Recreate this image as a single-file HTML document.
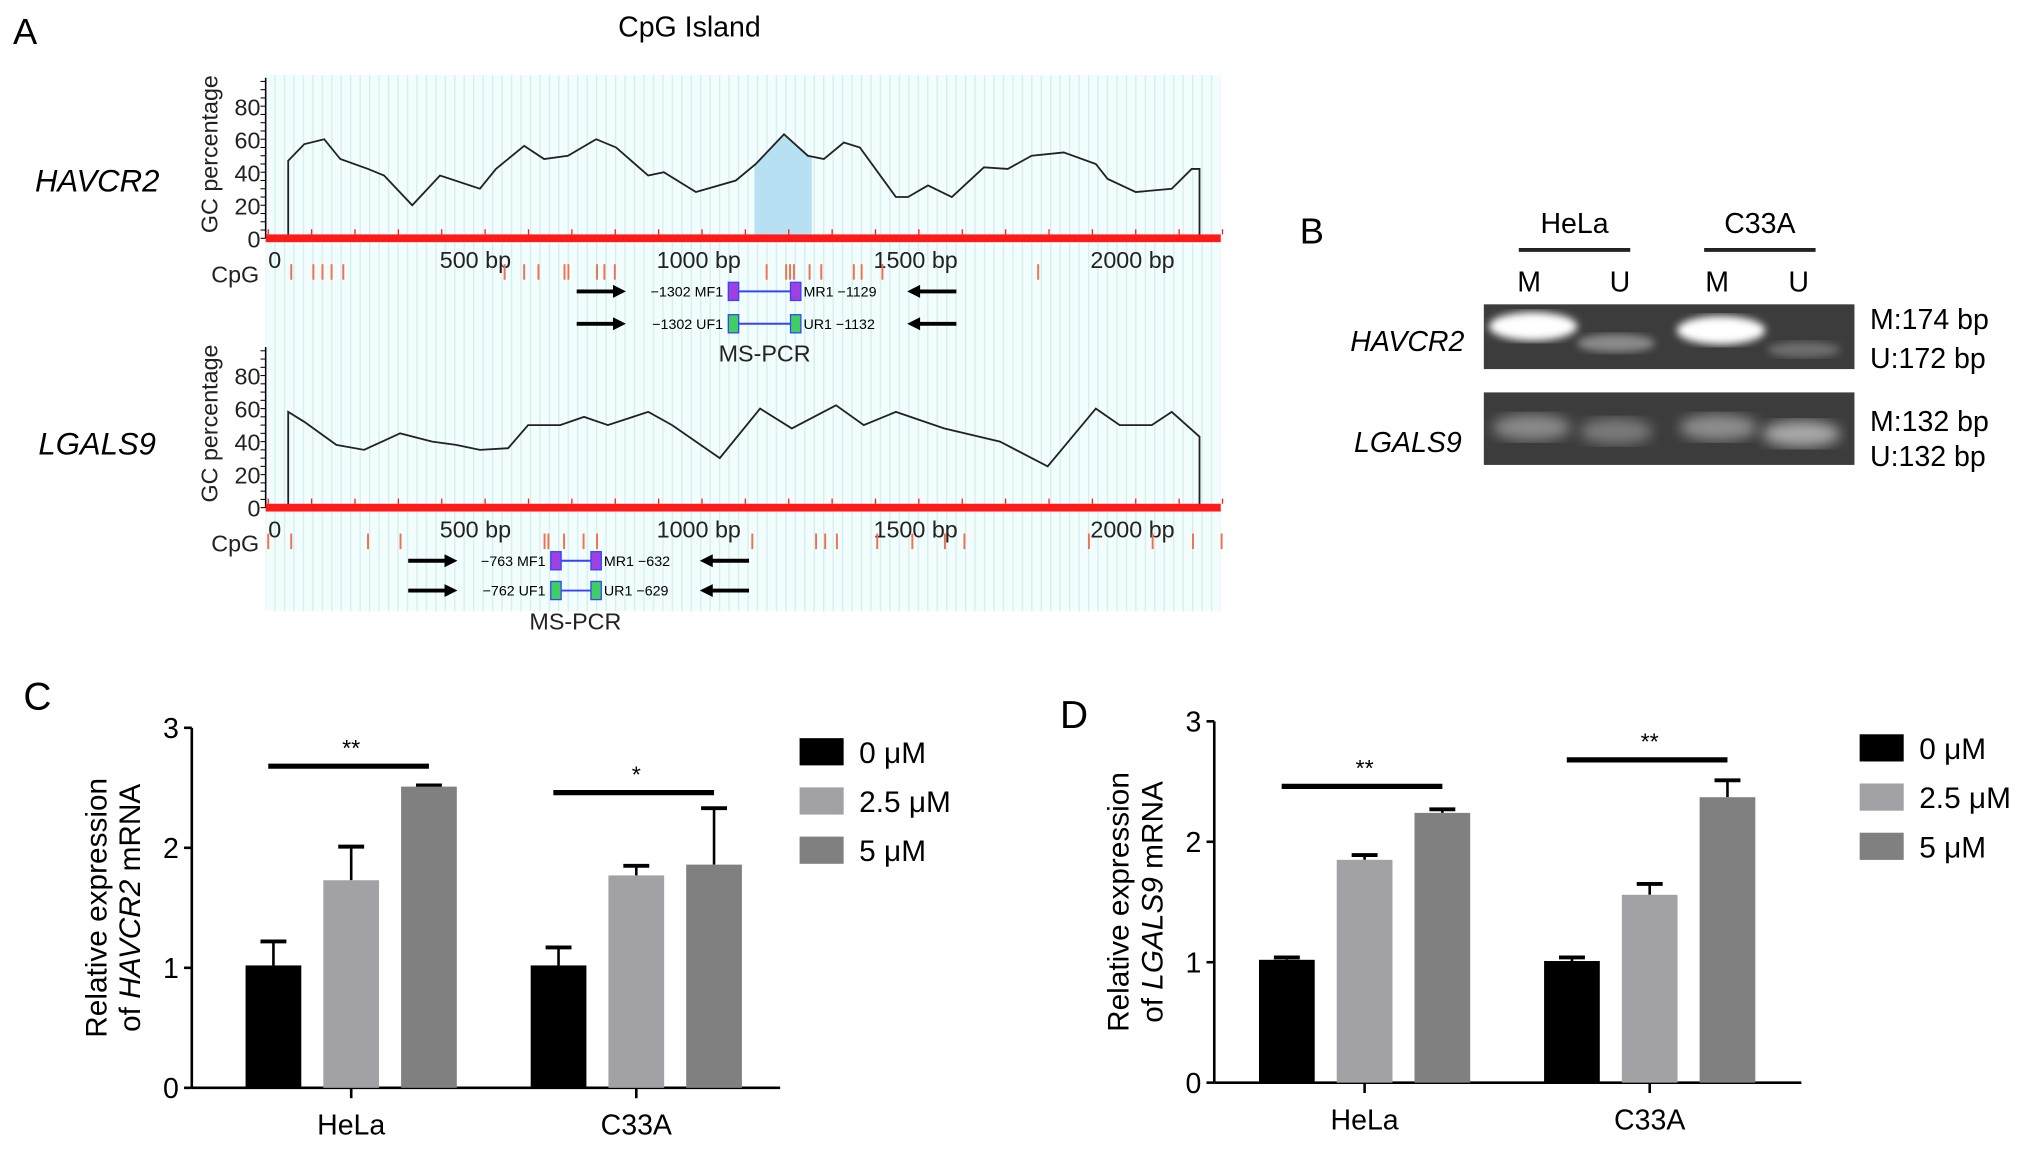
<!DOCTYPE html>
<html><head><meta charset="utf-8">
<style>
html,body{margin:0;padding:0;background:#fff;}
svg{display:block;font-family:"Liberation Sans",sans-serif;}
</style></head>
<body>
<svg id="fig" width="2032" height="1150" viewBox="0 0 1568 888" preserveAspectRatio="none">
<defs>
<pattern id="stripes" x="0" y="0" width="7.3" height="10" patternUnits="userSpaceOnUse">
<rect width="7.3" height="10" fill="#f2fdfd"/><rect width="1" height="10" fill="#d6eeee"/>
</pattern>
<filter id="blur3"><feGaussianBlur stdDeviation="3"/></filter>
<filter id="blur5"><feGaussianBlur stdDeviation="5"/></filter>
</defs>

<!-- PANEL A -->
<text x="10" y="34" font-size="28">A</text>
<text x="532" y="28" font-size="22" text-anchor="middle">CpG Island</text>
<rect x="205" y="58" width="737" height="414" fill="url(#stripes)"/>
<g id="panelA"></g>

<!-- PANEL B -->
<text x="1003" y="188" font-size="28">B</text>
<text x="1215" y="180" font-size="22" text-anchor="middle">HeLa</text>
<text x="1358" y="180" font-size="22" text-anchor="middle">C33A</text>
<line x1="1172" y1="193" x2="1258" y2="193" stroke="#222" stroke-width="3"/>
<line x1="1315" y1="193" x2="1401" y2="193" stroke="#222" stroke-width="3"/>
<text x="1180" y="225" font-size="22" text-anchor="middle">M</text>
<text x="1250" y="225" font-size="22" text-anchor="middle">U</text>
<text x="1325" y="225" font-size="22" text-anchor="middle">M</text>
<text x="1388" y="225" font-size="22" text-anchor="middle">U</text>
<text x="1130" y="271" font-size="22" font-style="italic" text-anchor="end">HAVCR2</text>
<text x="1128" y="349" font-size="22" font-style="italic" text-anchor="end">LGALS9</text>
<g>
<rect x="1145" y="235" width="286" height="50" fill="#3c3c3c"/>
<ellipse cx="1183" cy="252" rx="34" ry="11" fill="#fff" filter="url(#blur3)"/>
<ellipse cx="1247" cy="265" rx="30" ry="7" fill="#8a8a8a" filter="url(#blur3)"/>
<ellipse cx="1328" cy="255" rx="34" ry="11" fill="#fff" filter="url(#blur3)"/>
<ellipse cx="1392" cy="270" rx="28" ry="6" fill="#6e6e6e" filter="url(#blur3)"/>
</g>
<g>
<rect x="1145" y="303" width="286" height="56" fill="#3c3c3c"/>
<ellipse cx="1182" cy="330" rx="30" ry="10" fill="#8a8a8a" filter="url(#blur5)"/>
<ellipse cx="1247" cy="333" rx="28" ry="10" fill="#7a7a7a" filter="url(#blur5)"/>
<ellipse cx="1326" cy="330" rx="30" ry="10" fill="#8e8e8e" filter="url(#blur5)"/>
<ellipse cx="1390" cy="335" rx="30" ry="10" fill="#a8a8a8" filter="url(#blur5)"/>
</g>
<text x="1443" y="254" font-size="22">M:174 bp</text>
<text x="1443" y="284" font-size="22">U:172 bp</text>
<text x="1443" y="333" font-size="22">M:132 bp</text>
<text x="1443" y="360" font-size="22">U:132 bp</text>

<!-- PANEL C / D -->
<text x="18" y="548" font-size="30">C</text>
<text x="818" y="562" font-size="30">D</text>
<g id="panelC"></g>
<g id="panelD"></g>
</svg>

<script>
// ---------- Panel A data ----------
const havcrBp = [46,83,129,166,230,267,332,396,488,525,590,636,691,756,802,876,912,986,1078,1124,1189,1244,1281,1327,1364,1447,1475,1521,1576,1650,1705,1760,1834,1908,1935,2000,2083,2129,2147];
const havcrGC = [47,57,60,48,42,38,20,38,30,42,56,48,50,60,55,38,40,28,35,45,63,50,48,58,55,25,25,32,25,43,42,50,52,45,36,28,30,42,42];
const lgalsBp = [46,83,157,221,304,378,433,488,553,599,673,728,783,876,931,1041,1134,1207,1309,1373,1447,1558,1687,1797,1908,1963,2037,2083,2147];
const lgalsGC = [58,52,38,35,45,40,38,35,36,50,50,55,50,58,50,30,60,48,62,50,58,48,40,25,60,50,50,58,43];
const islandRange = [1121,1253];
const gcTicks = [0,20,40,60,80];
const bpTicks = [0,500,1000,1500,2000];
const bpTickLabels = ["0","500 bp","1000 bp","1500 bp","2000 bp"];
const cpgSites1 = [53,104,125,146,173,545,590,623,683,692,758,775,799,1149,1194,1203,1212,1248,1275,1350,1368,1416,1775];
const cpgSites2 = [0,53,230,305,637,646,682,727,758,1116,1263,1284,1311,1404,1485,1560,1605,1892,2039,2132,2198];

const NS='http://www.w3.org/2000/svg';
function mk(parent, tag, attrs, text){
  const e=document.createElementNS(NS,tag);
  for(const k in attrs) e.setAttribute(k, attrs[k]);
  if(text!==undefined) e.textContent=text;
  parent.appendChild(e); return e;
}
const gA=document.getElementById('panelA');
const xBp = bp => 207 + bp*0.3347;

function gcChart(top0, bps, vals, gene, labelY, sites, prim){
  const yV = v => top0 - v*1.275;
  const ax=mk(gA,'line',{x1:205,y1:top0-124,x2:205,y2:top0,stroke:'#000','stroke-width':1.2});
  
  
  for(let v=0; v<=95; v+=5){ mk(gA,'line',{x1:201,x2:205,y1:yV(v),y2:yV(v),stroke:'#000','stroke-width':0.8}); }
  gcTicks.forEach(t=>{
    const tl=mk(gA,'text',{x:201,y:yV(t)+7,'font-size':18,'text-anchor':'end',fill:'#222'},String(t));
    
    
  });
  const yt=mk(gA,'text',{x:0,y:0,'font-size':18,'text-anchor':'middle',transform:`translate(168 ${top0-65}) rotate(-90)`,fill:'#222'},'GC percentage');
  
  
  const gl=mk(gA,'text',{x:75,y:labelY,'font-size':24,'font-style':'italic','text-anchor':'middle'},gene);
  
  
  if(gene==='HAVCR2'){
    let pts=[[islandRange[0],top0]];
    const interp = b=>{for(let i=1;i<bps.length;i++){if(bps[i]>=b){const f=(b-bps[i-1])/(bps[i]-bps[i-1]);return vals[i-1]+f*(vals[i]-vals[i-1]);}}return vals[vals.length-1];};
    pts.push([islandRange[0],interp(islandRange[0])]);
    bps.forEach((b,i)=>{ if(b>islandRange[0]&&b<islandRange[1]) pts.push([b,vals[i]]); });
    pts.push([islandRange[1],interp(islandRange[1])]); pts.push([islandRange[1],top0]);
    const sh=mk(gA,'polygon',{points:pts.map(p=>xBp(p[0])+','+(p[1]===top0?top0:yV(p[1]))).join(' '),fill:'#b7e1f3'});
    
    
  }
  let pts=[[xBp(bps[0]),top0]];
  bps.forEach((b,i)=>pts.push([xBp(b),yV(vals[i])]));
  pts.push([xBp(bps[bps.length-1]),top0]);
  const ln=mk(gA,'polyline',{points:pts.map(p=>p.join(',')).join(' '),fill:'none',stroke:'#222','stroke-width':1.4});
  
  
  const rb=mk(gA,'rect',{x:205,y:top0-3,width:737,height:6,fill:'#ff1a1a'});
  
  
  for(let b=0;b<=2200;b+=100){ mk(gA,'line',{x1:xBp(b),x2:xBp(b),y1:top0-7,y2:top0-3,stroke:'#ff1a1a','stroke-width':1}); }
  bpTicks.forEach((b,i)=>{
    const t=mk(gA,'text',{x:xBp(b)+(i===0?0:-35),y:top0+23,'font-size':18,'text-anchor':'start',fill:'#222'},bpTickLabels[i]);
    
    
  });
  const cl=mk(gA,'text',{x:200,y:top0+34,'font-size':18,'text-anchor':'end',fill:'#222'},'CpG');
  
  
  sites.forEach(s=>{
    const m=mk(gA,'line',{x1:xBp(s),x2:xBp(s),y1:top0+20,y2:top0+32,stroke:'#f07050','stroke-width':1.5});
    
    
  });
  prim.rows.forEach((r,i)=>{
    const y=prim.y[i];
    mk(gA,'line',{x1:prim.a1,x2:prim.a1+30,y1:y,y2:y,stroke:'#000','stroke-width':3});
    mk(gA,'polygon',{points:`${prim.a1+38},${y} ${prim.a1+28},${y-5} ${prim.a1+28},${y+5}`,fill:'#000'});
    mk(gA,'line',{x1:prim.a2+8,x2:prim.a2+38,y1:y,y2:y,stroke:'#000','stroke-width':3});
    mk(gA,'polygon',{points:`${prim.a2},${y} ${prim.a2+10},${y-5} ${prim.a2+10},${y+5}`,fill:'#000'});
    mk(gA,'text',{x:prim.b1-4,y:y+4,'font-size':11,'text-anchor':'end'},r[0]+'  '+r[1]);
    mk(gA,'line',{x1:prim.b1+4,x2:prim.b2,y1:y,y2:y,stroke:'#3344ff','stroke-width':1.5});
    const c=i===0?'#a040e0':'#40d060';
    const b1=mk(gA,'rect',{x:prim.b1,y:y-7,width:8,height:14,fill:c,stroke:'#3344ff','stroke-width':1});
    
    
    const b2=mk(gA,'rect',{x:prim.b2,y:y-7,width:8,height:14,fill:c,stroke:'#3344ff','stroke-width':1});
    
    
    mk(gA,'text',{x:prim.b2+10,y:y+4,'font-size':11},r[2]+' '+r[3]);
  });
  const ms=mk(gA,'text',{x:prim.ms,y:prim.msy,'font-size':18,'text-anchor':'middle',fill:'#222'},'MS-PCR');
  
  
}
gcChart(184, havcrBp, havcrGC, 'HAVCR2', 148, cpgSites1,
  {y:[225,250], rows:[['−1302','MF1','MR1','−1129'],['−1302','UF1','UR1','−1132']], a1:445, a2:700, b1:562, b2:610, ms:590, msy:279});
gcChart(392, lgalsBp, lgalsGC, 'LGALS9', 351, cpgSites2,
  {y:[433,456], rows:[['−763','MF1','MR1','−632'],['−762','UF1','UR1','−629']], a1:315, a2:540, b1:425, b2:456, ms:444, msy:486});

// ---------- Panels C & D data ----------
const groups = ["HeLa","C33A"];
const doses = ["0 μM","2.5 μM","5 μM"];
const cMeans = [[1.02,1.73,2.51],[1.02,1.77,1.86]];
const cErr   = [[0.20,0.28,0.01],[0.15,0.08,0.47]];
const dMeans = [[1.02,1.85,2.24],[1.01,1.56,2.37]];
const dErr   = [[0.02,0.04,0.03],[0.03,0.09,0.14]];
const yTicks = [0,1,2,3];
const cSig = ["**","*"];
const dSig = ["**","**"];
const cSigLevel = [2.68,2.46];
const dSigLevel = [2.46,2.68];
const colors = ['#000000','#a1a1a6','#808080'];

function barChart(gid, x0, y0, y3, xEnd, centers, means, errs, sigs, sigLv, gene, legX, legY){
  const g=document.getElementById(gid);
  const k=(y0-y3)/3;
  const yv=v=>y0-v*k;
  const ax=mk(g,'line',{x1:x0,x2:x0,y1:y3,y2:y0,stroke:'#000','stroke-width':2});
  
  
  const xa=mk(g,'line',{x1:x0,x2:xEnd,y1:y0,y2:y0,stroke:'#000','stroke-width':2});
  
  
  yTicks.forEach(t=>{
    mk(g,'line',{x1:x0-6,x2:x0,y1:yv(t),y2:yv(t),stroke:'#000','stroke-width':2});
    const tl=mk(g,'text',{x:x0-10,y:yv(t)+8,'font-size':22,'text-anchor':'end'},String(t));
    
    
  });
  const t=mk(g,'text',{x:0,y:0,'font-size':23,'text-anchor':'middle',transform:`translate(${x0-66} ${(y0+y3)/2}) rotate(-90)`},'Relative expression');
  
  
  const t2=mk(g,'text',{x:0,y:0,'font-size':23,'text-anchor':'middle',transform:`translate(${x0-40} ${(y0+y3)/2}) rotate(-90)`});
  
  
  mk(t2,'tspan',{},'of ');
  mk(t2,'tspan',{'font-style':'italic'},gene);
  mk(t2,'tspan',{},' mRNA');
  const bw=43, step=60;
  groups.forEach((gn,gi)=>{
    const cx=centers[gi];
    mk(g,'line',{x1:cx,x2:cx,y1:y0,y2:y0+8,stroke:'#000','stroke-width':2});
    const gl=mk(g,'text',{x:cx,y:y0+36,'font-size':22,'text-anchor':'middle'},gn);
    
    
    const firstX=cx-step-bw/2;
    means[gi].forEach((m,di)=>{
      const bx=firstX+di*step;
      const top=yv(m);
      const et=yv(m+errs[gi][di]);
      const mc=bx+bw/2;
      mk(g,'line',{x1:mc,x2:mc,y1:et,y2:top,stroke:'#000','stroke-width':2});
      mk(g,'line',{x1:mc-10,x2:mc+10,y1:et,y2:et,stroke:'#000','stroke-width':3});
      const r=mk(g,'rect',{x:bx,y:top,width:bw,height:y0-top,fill:colors[di]});
      
      
    });
    const sy=yv(sigLv[gi]);
    const sl=mk(g,'line',{x1:cx-64,x2:cx+60,y1:sy,y2:sy,stroke:'#000','stroke-width':4});
    
    
    const st=mk(g,'text',{x:cx,y:sy-8,'font-size':18,'text-anchor':'middle'},sigs[gi]);
    
    
  });
  doses.forEach((d,i)=>{
    const ly=legY+i*38;
    const lr=mk(g,'rect',{x:legX,y:ly,width:34,height:21,fill:colors[i]});
    
    
    const lt=mk(g,'text',{x:legX+46,y:ly+19,'font-size':23},d);
    
    
  });
}
barChart('panelC',148,840,562,602,[271,491],cMeans,cErr,cSig,cSigLevel,'HAVCR2',617,570);
barChart('panelD',937,836,557,1390,[1053,1273],dMeans,dErr,dSig,dSigLevel,'LGALS9',1435,567);
</script>
</body></html>
